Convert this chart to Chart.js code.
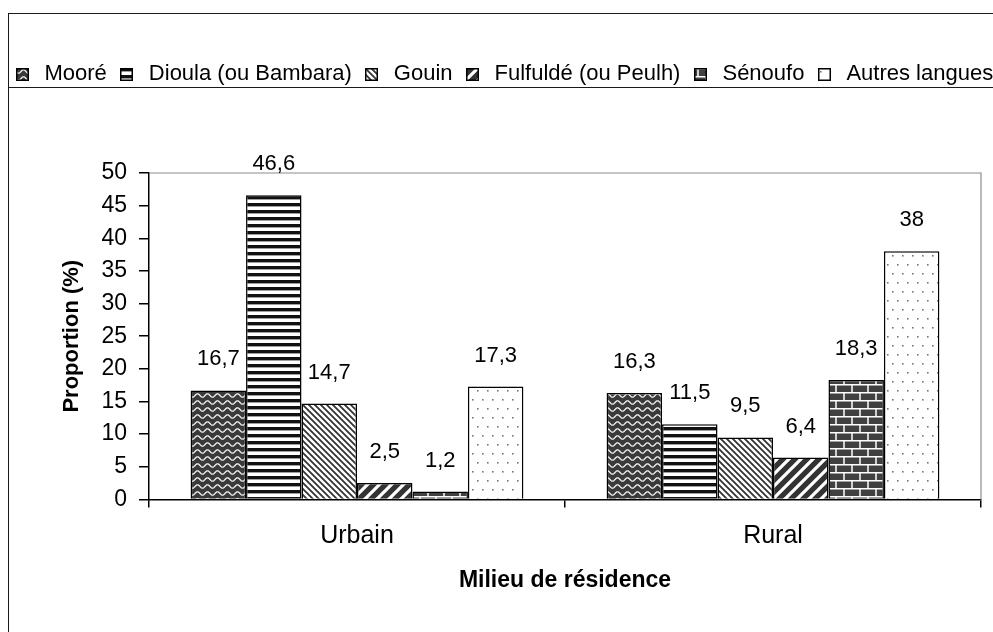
<!DOCTYPE html>
<html lang="fr">
<head>
    <meta charset="utf-8">
    <title>Langues par milieu de résidence</title>
    <style>
        body {
            margin: 0;
            background: #ffffff;
            font-family: "Liberation Sans", Arial, sans-serif;
            color: #000000;
        }

        #wrap {
            position: relative;
            width: 993px;
            height: 632px;
            overflow: hidden;
            background: #ffffff;
        }

        #chart {
            position: absolute;
            left: 0;
            top: 0;
        }

        .frame {
            position: absolute;
            left: 8px;
            top: 13px;
            right: -20px;
            bottom: -20px;
            border-top: 1.5px solid #1a1a1a;
            border-left: 1.5px solid #1a1a1a;
        }

        .legend-line {
            position: absolute;
            left: 8px;
            right: 0;
            top: 87px;
            border-top: 1.5px solid #1a1a1a;
        }

        #legend {
            position: absolute;
            left: 16px;
            top: 60px;
            white-space: nowrap;
            font-size: 22px;
            line-height: 26px;
            display: flex;
            align-items: center;
        }

        #legend .item {
            display: flex;
            align-items: center;
            margin-right: 13.5px;
        }

        #legend canvas {
            margin-right: 15.5px;
            margin-top: 2px;
        }
    </style>
</head>
<body>
    <div id="wrap">
        <canvas id="chart" width="993" height="632"></canvas>
        <div class="frame"></div>
        <div class="legend-line"></div>
        <div id="legend"></div>
    </div>

    <script src="https://cdn.jsdelivr.net/npm/chart.js@4.4.1/dist/chart.umd.min.js"></script>
    <script>
        // data
        const categories = ["Urbain", "Rural"];
        const languages = ["Mooré", "Dioula (ou Bambara)", "Gouin", "Fulfuldé (ou Peulh)", "Sénoufo", "Autres langues"];
        const moore = [16.7, 16.3];
        const dioula = [46.6, 11.5];
        const gouin = [14.7, 9.5];
        const fulfulde = [2.5, 6.4];
        const senoufo = [1.2, 18.3];
        const autres = [17.3, 38];
        const yTicks = [0, 5, 10, 15, 20, 25, 30, 35, 40, 45, 50];

        const FONT = '"Liberation Sans", Arial, sans-serif';
        const canvas = document.getElementById("chart");
        const ctx = canvas.getContext("2d");

        function tile(w, h, draw) {
            const c = document.createElement("canvas");
            c.width = w;
            c.height = h;
            draw(c.getContext("2d"), w, h);
            return ctx.createPattern(c, "repeat");
        }

        // wavy white lines on dark grey
        const wavePattern = tile(10, 7, (g, w, h) => {
            g.fillStyle = "#3a3a3a";
            g.fillRect(0, 0, w, h);
            g.strokeStyle = "#f2f2f2";
            g.lineWidth = 1.3;
            g.beginPath();
            for (let x = -1; x <= w + 1; x += 0.5) {
                const y = 3.5 + 1.7 * Math.sin((x / w) * Math.PI * 2);
                if (x === -1) g.moveTo(x, y); else g.lineTo(x, y);
            }
            g.stroke();
        });

        // thick horizontal stripes
        const hStripePattern = tile(4, 7, (g, w, h) => {
            g.fillStyle = "#ffffff";
            g.fillRect(0, 0, w, h);
            g.fillStyle = "#111111";
            g.fillRect(0, 0, w, 3.4);
        });

        // thin "\" diagonals
        const backDiagPattern = tile(6, 6, (g, w, h) => {
            g.fillStyle = "#ffffff";
            g.fillRect(0, 0, w, h);
            g.strokeStyle = "#333333";
            g.lineWidth = 1.8;
            g.beginPath();
            g.moveTo(-1, -1); g.lineTo(w + 1, h + 1);
            g.moveTo(-1, h - 1); g.lineTo(1, h + 1);
            g.moveTo(w - 1, -1); g.lineTo(w + 1, 1);
            g.stroke();
        });

        // wide "/" diagonals, white on dark
        const fwdDiagPattern = tile(12, 12, (g, w, h) => {
            g.fillStyle = "#333333";
            g.fillRect(0, 0, w, h);
            g.strokeStyle = "#ffffff";
            g.lineWidth = 3.2;
            g.beginPath();
            g.moveTo(-2, h + 2); g.lineTo(w + 2, -2);
            g.moveTo(-2, 2); g.lineTo(2, -2);
            g.moveTo(w - 2, h + 2); g.lineTo(w + 2, h - 2);
            g.stroke();
        });

        // bricks
        const brickPattern = tile(16, 16, (g, w, h) => {
            g.fillStyle = "#404040";
            g.fillRect(0, 0, w, h);
            g.strokeStyle = "#ffffff";
            g.lineWidth = 1.5;
            g.beginPath();
            g.moveTo(0, 0.75); g.lineTo(w, 0.75);
            g.moveTo(0, 8.75); g.lineTo(w, 8.75);
            g.moveTo(4, 0); g.lineTo(4, 8);
            g.moveTo(12, 8); g.lineTo(12, 16);
            g.stroke();
        });

        // sparse dots
        const dotPattern = tile(10, 18, (g, w, h) => {
            g.fillStyle = "#ffffff";
            g.fillRect(0, 0, w, h);
            g.fillStyle = "#777777";
            g.fillRect(2, 3, 1.6, 1.6);
            g.fillRect(7, 12, 1.6, 1.6);
        });

        const seriesValues = [moore, dioula, gouin, fulfulde, senoufo, autres];
        const patterns = [wavePattern, hStripePattern, backDiagPattern, fwdDiagPattern, brickPattern, dotPattern];

        // legend, cut at the right edge like the original
        const legend = document.getElementById("legend");
        languages.forEach((name, i) => {
            const item = document.createElement("span");
            item.className = "item";
            const sw = document.createElement("canvas");
            sw.width = 13;
            sw.height = 13;
            const sg = sw.getContext("2d");
            sg.fillStyle = patterns[i];
            sg.fillRect(0, 0, 13, 13);
            sg.strokeStyle = "#000";
            sg.lineWidth = 1.5;
            sg.strokeRect(0.75, 0.75, 11.5, 11.5);
            item.appendChild(sw);
            const txt = document.createElement("span");
            txt.textContent = name;
            item.appendChild(txt);
            legend.appendChild(item);
        });

        const barLabels = {
            id: "barLabels",
            afterDatasetsDraw(chart) {
                const c = chart.ctx;
                c.save();
                c.font = "22px " + FONT;
                c.fillStyle = "#000";
                c.textAlign = "center";
                c.textBaseline = "middle";
                chart.data.datasets.forEach((ds, i) => {
                    chart.getDatasetMeta(i).data.forEach((bar, j) => {
                        const txt = String(ds.data[j]).replace(".", ",");
                        c.fillText(txt, bar.x, bar.y - 31);
                    });
                });
                c.restore();
            }
        };

        const plotFrame = {
            id: "plotFrame",
            beforeDatasetsDraw(chart) {
                const a = chart.chartArea;
                const c = chart.ctx;
                c.save();
                c.strokeStyle = "#8c8c8c";
                c.lineWidth = 1.2;
                c.beginPath();
                c.moveTo(a.left, a.top);
                c.lineTo(a.right, a.top);
                c.lineTo(a.right, a.bottom);
                c.stroke();
                c.restore();
            }
        };

        new Chart(canvas, {
            type: "bar",
            data: {
                labels: categories,
                datasets: languages.map((name, i) => ({
                    label: name,
                    data: seriesValues[i],
                    backgroundColor: patterns[i],
                    borderColor: "#000000",
                    borderWidth: 1.5,
                    categoryPercentage: 0.8,
                    barPercentage: 1.0
                }))
            },
            options: {
                responsive: false,
                animation: false,
                layout: { padding: { left: 55, top: 173, right: 12, bottom: 34 } },
                plugins: {
                    legend: { display: false },
                    tooltip: { enabled: false }
                },
                scales: {
                    x: {
                        grid: {
                            offset: true,
                            drawOnChartArea: false,
                            drawTicks: true,
                            tickLength: 8,
                            color: "#000",
                            lineWidth: 1.5
                        },
                        border: { color: "#000", width: 1.5 },
                        ticks: {
                            color: "#000",
                            font: { family: FONT, size: 25 },
                            padding: 14
                        },
                        title: {
                            display: true,
                            text: "Milieu de résidence",
                            color: "#000",
                            font: { family: FONT, size: 23, weight: "bold" },
                            padding: { top: 1, bottom: 4 }
                        }
                    },
                    y: {
                        min: 0,
                        max: 50,
                        afterBuildTicks(scale) {
                            scale.ticks = yTicks.map(v => ({ value: v }));
                        },
                        grid: {
                            drawOnChartArea: false,
                            drawTicks: true,
                            tickLength: 10,
                            color: "#000",
                            lineWidth: 1.5
                        },
                        border: { color: "#000", width: 1.5 },
                        ticks: {
                            color: "#000",
                            font: { family: FONT, size: 23 },
                            padding: 12
                        },
                        title: {
                            display: true,
                            text: "Proportion (%)",
                            color: "#000",
                            font: { family: FONT, size: 22, weight: "bold" },
                            padding: { top: 4, bottom: 4 }
                        }
                    }
                }
            },
            plugins: [plotFrame, barLabels]
        });
    </script>
</body>
</html>
